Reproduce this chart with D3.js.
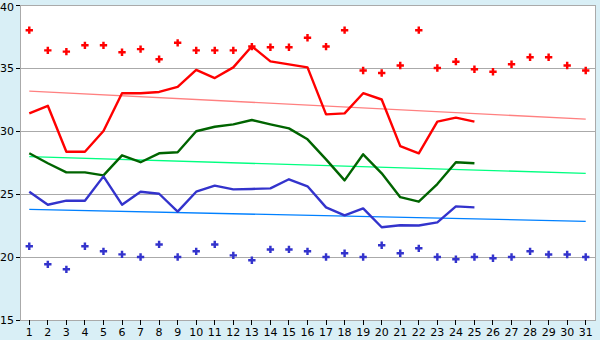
<!DOCTYPE html>
<html>
<head>
<meta charset="utf-8">
<script src="https://cdn.jsdelivr.net/npm/d3@7"></script>
<style>
  body { margin: 0; background: #d9eff6; }
  svg { display: block; }
</style>
</head>
<body>
<div id="chart"></div>
<script>
const days = d3.range(1, 32);
const yTicks = [15, 20, 25, 30, 35, 40];

// record highs / lows (markers)
const recordHigh = [38.0, 36.4, 36.3, 36.8, 36.8, 36.25, 36.5, 35.7, 37.0, 36.4,
    36.4, 36.4, 36.7, 36.65, 36.65, 37.4, 36.7, 38.0, 34.8, 34.6,
    35.2, 38.0, 35.0, 35.5, 34.9, 34.7, 35.3, 35.85, 35.85, 35.2, 34.8];
const recordLow = [20.85, 19.42, 19.02, 20.85, 20.45, 20.21, 20.0, 21.0, 20.0, 20.45,
    21.0, 20.13, 19.74, 20.6, 20.6, 20.45, 20.0, 20.3, 20.0, 20.93,
    20.3, 20.69, 20.0, 19.82, 20.0, 19.9, 20.0, 20.45, 20.2, 20.2, 20.0];

// daily max / mean / min (days 1-25)
const dailyMax = [31.4, 32.0, 28.35, 28.35, 30.0, 33.0, 33.0, 33.1, 33.5, 34.85,
    34.2, 35.05, 36.72, 35.53, 35.29, 35.05, 31.32, 31.4, 33.0, 32.5,
    28.8, 28.23, 30.74, 31.06, 30.74];
const dailyMean = [28.23, 27.44, 26.72, 26.72, 26.48, 28.07, 27.52, 28.23, 28.31, 29.98,
    30.34, 30.53, 30.87, 30.53, 30.21, 29.34, 27.75, 26.08, 28.15, 26.64,
    24.75, 24.39, 25.79, 27.52, 27.44];
const dailyMin = [25.18, 24.15, 24.47, 24.47, 26.4, 24.15, 25.18, 25.02, 23.6, 25.18,
    25.66, 25.37, 25.4, 25.45, 26.17, 25.61, 23.94, 23.31, 23.86, 22.36,
    22.52, 22.5, 22.75, 24.02, 23.94];

// trend lines: value at day 1 and day 31
const trendMax = [[1, 33.17], [31, 30.94]];
const trendMean = [[1, 27.96], [31, 26.64]];
const trendMin = [[1, 23.78], [31, 22.83]];

const W = 600, H = 340;
const margin = {top: 5, right: 5, bottom: 20, left: 20};
const width = W - margin.left - margin.right,
    height = H - margin.top - margin.bottom;

const svg = d3.select("#chart")
    .append("svg")
    .attr("width", W)
    .attr("height", H)
    .append("g")
    .attr("transform", "translate(" + margin.left + "," + margin.top + ")");

const x = d3.scaleBand()
    .domain(days)
    .range([0, width]);
const cx = d => x(d) + x.bandwidth() / 2;

const y = d3.scaleLinear()
    .domain([15, 40])
    .range([height, 0]);

// plot area
svg.append("rect")
    .attr("x", 0).attr("y", 0)
    .attr("width", width).attr("height", height)
    .attr("fill", "white")
    .attr("stroke", "#aaaaaa")
    .attr("shape-rendering", "crispEdges");

// gridlines
svg.selectAll(".grid")
    .data(yTicks.slice(1, -1))
    .join("line")
    .attr("x1", 0).attr("x2", width)
    .attr("y1", d => y(d)).attr("y2", d => y(d))
    .attr("stroke", "#aaaaaa")
    .attr("shape-rendering", "crispEdges");

// axes
const yAxis = svg.append("g")
    .call(d3.axisLeft(y).tickValues(yTicks).tickSize(4).tickPadding(2));
const xAxis = svg.append("g")
    .attr("transform", "translate(0," + height + ")")
    .call(d3.axisBottom(x).tickSize(5).tickPadding(3).tickSizeOuter(0));
[xAxis, yAxis].forEach(a => {
    a.select(".domain").attr("stroke", "#aaaaaa").attr("shape-rendering", "crispEdges");
    a.selectAll(".tick line").attr("stroke", "#000").attr("shape-rendering", "crispEdges");
    a.selectAll("text")
        .attr("fill", "#000")
        .style("font-family", "'DejaVu Sans', Verdana, sans-serif")
        .style("font-size", "11px");
});
// keep the top label inside the window
yAxis.selectAll(".tick text").filter(d => d === 40).attr("dy", "0.5em");

// trend lines
const trendLine = d3.line().x(d => cx(d[0])).y(d => y(d[1]));
[[trendMax, "#ff8080"], [trendMean, "#00ff80"], [trendMin, "#0080ff"]].forEach(([data, c]) => {
    svg.append("path")
        .attr("d", trendLine(data))
        .attr("fill", "none")
        .attr("stroke", c)
        .attr("stroke-width", 1.3);
});

// daily lines
const line = d3.line().x((d, i) => cx(days[i])).y(d => y(d));
[[dailyMax, "#ff0000"], [dailyMean, "#006400"], [dailyMin, "#3333cc"]].forEach(([data, c]) => {
    svg.append("path")
        .attr("d", line(data))
        .attr("fill", "none")
        .attr("stroke", c)
        .attr("stroke-width", 2.4)
        .attr("stroke-linejoin", "round");
});

// record markers
const cross = d3.symbol().type(d3.symbolCross).size(30);
[[recordHigh, "#ff0000"], [recordLow, "#3333cc"]].forEach(([data, c]) => {
    svg.append("g")
        .selectAll("path")
        .data(data)
        .join("path")
        .attr("d", cross)
        .attr("transform", (d, i) => "translate(" + cx(days[i]) + "," + y(d) + ")")
        .attr("fill", c);
});
</script>
</body>
</html>
